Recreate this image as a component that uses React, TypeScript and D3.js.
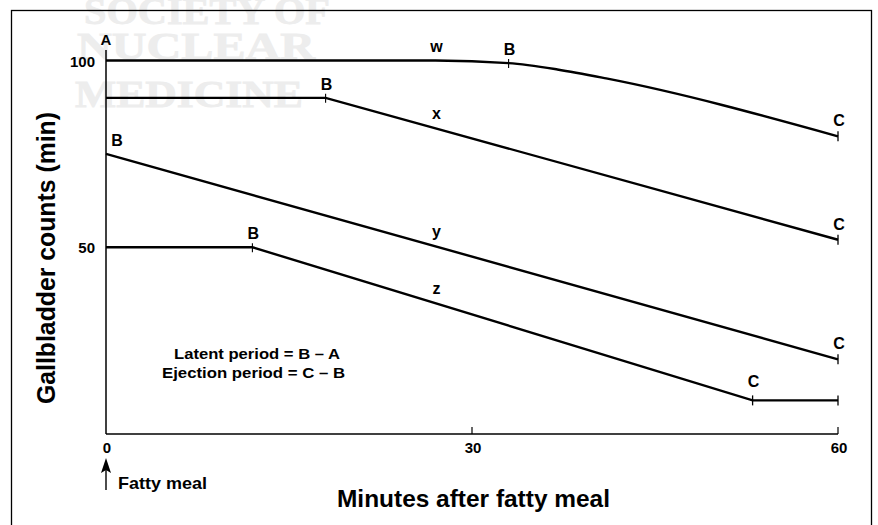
import React from "react";
import * as d3 from "d3";

const xTicks = [0, 30, 60];
const yTicks = [50, 100];

// curve w: flat then smooth decline
const wMin = [0, 27, 33, 37, 41, 60];
const wVal = [100, 100, 99.3, 97.6, 95.2, 79.7];
// curve x
const xMin = [0, 18, 60];
const xVal = [90, 90, 52];
// curve y
const yMin = [0, 60];
const yVal = [75, 20];
// curve z
const zMin = [0, 12, 53, 60];
const zVal = [50, 50, 9, 9];

const curveNames = ["w", "x", "y", "z"];
// marker points (minute, value) for B and C on each curve
const bMin = [33, 18, 0, 12];
const bVal = [99.3, 90, 75, 50];
const cMin = [60, 60, 60, 53];
const cVal = [79.7, 52, 20, 9];

const FONT = "'Liberation Sans', Arial, Helvetica, sans-serif";

export default function App() {
  const W = 878;
  const H = 525;
  const x = d3.scaleLinear().domain([0, 60]).range([106, 838]);
  const y = d3.scaleLinear().domain([0, 100]).range([434, 60.5]);

  const mk = (ms: number[], vs: number[]) => ms.map((m, i) => [m, vs[i]] as [number, number]);
  const series = [mk(wMin, wVal), mk(xMin, xVal), mk(yMin, yVal), mk(zMin, zVal)];
  const lineLinear = d3.line<[number, number]>().x((d) => x(d[0])).y((d) => y(d[1]));
  const lineSmooth = d3
    .line<[number, number]>()
    .x((d) => x(d[0]))
    .y((d) => y(d[1]))
    .curve(d3.curveMonotoneX);

  const nameMin = 27;
  const interp = (s: [number, number][], m: number) => {
    for (let i = 0; i < s.length - 1; i++) {
      if (m >= s[i][0] && m <= s[i + 1][0]) {
        const t = (m - s[i][0]) / (s[i + 1][0] - s[i][0]);
        return s[i][1] + t * (s[i + 1][1] - s[i][1]);
      }
    }
    return s[s.length - 1][1];
  };

  return (
    <svg
      width={W}
      height={H}
      viewBox={`0 0 ${W} ${H}`}
      style={{ position: "absolute", left: 0, top: 0, background: "#fff" }}
    >
      <rect x={0} y={0} width={W} height={H} fill="#fff" />
      {/* watermark */}
      <g
        fill="#ededed"
        stroke="#ededed"
        strokeWidth={0.8}
        fontFamily="'Liberation Serif', 'DejaVu Serif', serif"
        fontWeight="bold"
        fontSize={38}
      >
        <text x={84} y={24} textLength={246} lengthAdjust="spacingAndGlyphs">SOCIETY OF</text>
        <text x={77} y={59} textLength={238} lengthAdjust="spacingAndGlyphs">NUCLEAR</text>
        <text x={75} y={107} textLength={228} lengthAdjust="spacingAndGlyphs">MEDICINE</text>
      </g>
      {/* frame */}
      <rect x={11.5} y={10.5} width={860} height={530} fill="none" stroke="#000" strokeWidth={1.3} />

      {/* axes */}
      <line x1={x(0)} y1={50} x2={x(0)} y2={y(0)} stroke="#000" strokeWidth={1.5} />
      <line x1={x(0)} y1={y(0)} x2={x(60)} y2={y(0)} stroke="#000" strokeWidth={1.5} />
      {xTicks.map((t) => (
        <g key={"xt" + t}>
          {t > 0 && <line x1={x(t)} y1={y(0) - 7} x2={x(t)} y2={y(0)} stroke="#000" strokeWidth={1.2} />}
          <text x={x(t) + 1} y={453} textAnchor="middle" fontFamily={FONT} fontWeight="bold" fontSize={15}>
            {t}
          </text>
        </g>
      ))}
      {yTicks.map((t) => (
        <text key={"yt" + t} x={95} y={y(t) + 6} textAnchor="end" fontFamily={FONT} fontWeight="bold" fontSize={15}>
          {t}
        </text>
      ))}

      {/* curves */}
      {series.map((s, i) => (
        <path
          key={"c" + i}
          d={(i === 0 ? lineSmooth(s) : lineLinear(s)) || ""}
          fill="none"
          stroke="#000"
          strokeWidth={2.4}
        />
      ))}
      {/* B and C ticks */}
      {curveNames.map((n, i) => (
        <g key={"bc" + n}>
          {bMin[i] > 0 && (
            <line x1={x(bMin[i])} y1={y(bVal[i]) - 4} x2={x(bMin[i])} y2={y(bVal[i]) + 5} stroke="#000" strokeWidth={1.1} />
          )}
          <line x1={x(cMin[i])} y1={y(cVal[i]) - 5} x2={x(cMin[i])} y2={y(cVal[i]) + 5} stroke="#000" strokeWidth={1.3} />
          {i === 3 && (
            <line x1={x(60)} y1={y(cVal[i]) - 5} x2={x(60)} y2={y(cVal[i]) + 5} stroke="#000" strokeWidth={1.3} />
          )}
          <text
            x={bMin[i] === 0 ? x(0) + 11 : x(bMin[i]) + 1}
            y={y(bVal[i]) - 8}
            textAnchor="middle"
            fontFamily={FONT}
            fontWeight="bold"
            fontSize={16}
          >
            B
          </text>
          <text
            x={x(cMin[i]) + 1}
            y={y(cVal[i]) - (i === 3 ? 13 : 10)}
            textAnchor="middle"
            fontFamily={FONT}
            fontWeight="bold"
            fontSize={16}
          >
            C
          </text>
          <text
            x={x(nameMin) + 1}
            y={y(interp(series[i], nameMin)) - 9}
            textAnchor="middle"
            fontFamily={FONT}
            fontWeight="bold"
            fontSize={16}
          >
            {n}
          </text>
        </g>
      ))}
      <text x={x(0)} y={45} textAnchor="middle" fontFamily={FONT} fontWeight="bold" fontSize={15}>
        A
      </text>

      {/* notes */}
      <text x={174} y={359} textLength={166} lengthAdjust="spacingAndGlyphs" fontFamily={FONT} fontWeight="bold" fontSize={15.5}>
        Latent period = B – A
      </text>
      <text x={162} y={378} textLength={183} lengthAdjust="spacingAndGlyphs" fontFamily={FONT} fontWeight="bold" fontSize={15.5}>
        Ejection period = C – B
      </text>

      {/* fatty meal arrow */}
      <line x1={x(0)} y1={490} x2={x(0)} y2={468} stroke="#000" strokeWidth={1.4} />
      <path d={`M${x(0) - 5},${473} L${x(0)},${458} L${x(0) + 5},${473} L${x(0)},${470} Z`} fill="#000" />
      <text x={118} y={489} textLength={89} lengthAdjust="spacingAndGlyphs" fontFamily={FONT} fontWeight="bold" fontSize={17}>
        Fatty meal
      </text>

      {/* axis titles */}
      <text
        x={337}
        y={507}
        textLength={273}
        lengthAdjust="spacingAndGlyphs"
        fontFamily={FONT}
        fontWeight="bold"
        fontSize={24}
      >
        Minutes after fatty meal
      </text>
      <text
        transform={`translate(55,258) rotate(-90)`}
        x={-146}
        y={0}
        textLength={292}
        lengthAdjust="spacingAndGlyphs"
        fontFamily={FONT}
        fontWeight="bold"
        fontSize={25}
      >
        Gallbladder counts (min)
      </text>
    </svg>
  );
}
